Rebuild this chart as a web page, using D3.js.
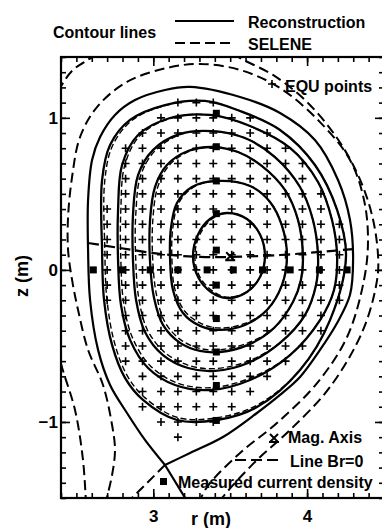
<!DOCTYPE html>
<html>
<head>
<meta charset="utf-8">
<script src="https://cdn.jsdelivr.net/npm/d3@7"></script>
<style>
  body { margin: 0; background: #fff; }
  svg { display: block; }
  text { font-family: "Liberation Sans", Arial, Helvetica, sans-serif; font-weight: bold; fill: #000; }
</style>
</head>
<body>
<svg id="chart" width="382" height="528"></svg>
<script>
// axes (metres)
const rDomain = [2.4, 4.5];
const zDomain = [-1.5, 1.4];
const rTickLabels = [3, 4];
const zTickLabels = [-1, 0, 1];

// reconstruction: closed flux surfaces, inner to outer, [r, z]
const recon1 = [[3.726,0.091],[3.694,0.233],[3.609,0.335],[3.479,0.374],[3.369,0.335],[3.291,0.233],[3.258,0.091],
  [3.291,-0.047],[3.375,-0.145],[3.479,-0.185],[3.609,-0.145],[3.694,-0.047]];
const recon2 = [[3.869,0.091],[3.837,0.289],[3.759,0.447],[3.629,0.552],[3.421,0.585],[3.252,0.545],[3.154,0.440],
  [3.115,0.276],[3.109,0.078],[3.128,-0.132],[3.193,-0.283],[3.304,-0.368],[3.434,-0.395],[3.596,-0.362],
  [3.739,-0.264],[3.837,-0.099]];
const recon3 = [[3.973,0.091],[3.941,0.328],[3.856,0.526],[3.707,0.683],[3.551,0.775],[3.395,0.808],[3.226,0.782],
  [3.089,0.690],[3.011,0.545],[2.979,0.328],[2.979,0.052],[3.005,-0.185],[3.063,-0.362],[3.174,-0.480],
  [3.304,-0.533],[3.434,-0.540],[3.616,-0.493],[3.785,-0.382],[3.908,-0.211],[3.960,-0.066]];
const recon4 = [[4.071,0.091],[4.038,0.328],[3.954,0.545],[3.791,0.742],[3.596,0.867],[3.382,0.913],[3.174,0.894],
  [2.998,0.788],[2.901,0.624],[2.868,0.361],[2.868,0.066],[2.888,-0.198],[2.946,-0.408],[3.063,-0.560],
  [3.226,-0.645],[3.401,-0.664],[3.616,-0.612],[3.824,-0.480],[3.986,-0.297],[4.058,-0.099]];
const recon5 = [[4.195,0.091],[4.162,0.328],[4.071,0.578],[3.889,0.802],[3.629,0.946],[3.369,1.019],[3.109,0.999],
  [2.901,0.887],[2.797,0.690],[2.771,0.394],[2.771,0.066],[2.790,-0.231],[2.849,-0.460],[2.966,-0.645],
  [3.141,-0.757],[3.369,-0.790],[3.629,-0.724],[3.889,-0.560],[4.084,-0.330],[4.175,-0.132]];
const recon6 = [[4.253,0.091],[4.195,0.394],[4.051,0.690],[3.824,0.920],[3.564,1.045],[3.336,1.111],[3.076,1.084],
  [2.849,0.986],[2.719,0.821],[2.667,0.591],[2.667,0.131],[2.680,-0.198],[2.732,-0.493],[2.816,-0.710],
  [2.933,-0.855],[3.154,-0.987],[3.414,-0.987],[3.674,-0.902],[3.954,-0.658],[4.149,-0.330]];
// separatrix, starting and ending at the X-point
const reconSep = [[3.076,-1.283],[2.946,-1.118],[2.829,-0.941],[2.719,-0.757],[2.641,-0.526],[2.589,-0.198],
  [2.576,0.131],[2.576,0.460],[2.602,0.723],[2.654,0.874],[2.751,1.019],[2.881,1.117],[3.076,1.183],[3.239,1.203],
  [3.564,1.137],[3.824,1.032],[4.051,0.854],[4.201,0.591],[4.279,0.328],[4.299,0.066],[4.279,-0.164],
  [4.195,-0.349],[4.084,-0.526],[3.954,-0.704],[3.824,-0.822],[3.674,-0.941],[3.453,-1.099],[3.239,-1.204],
  [3.076,-1.283]];
const reconLeg = [[3.076,-1.283],[3.235,-1.546]];

// SELENE contours
const selene1 = [[3.726,0.091],[3.694,0.233],[3.609,0.335],[3.479,0.374],[3.381,0.335],[3.303,0.233],[3.270,0.091],
  [3.303,-0.047],[3.387,-0.140],[3.479,-0.180],[3.609,-0.145],[3.694,-0.047]];
const selene2 = [[3.869,0.091],[3.837,0.289],[3.759,0.447],[3.629,0.552],[3.421,0.585],[3.264,0.545],[3.166,0.440],
  [3.127,0.276],[3.121,0.078],[3.140,-0.125],[3.205,-0.272],[3.316,-0.355],[3.434,-0.382],[3.596,-0.352],
  [3.739,-0.264],[3.837,-0.099]];
const selene3 = [[3.973,0.091],[3.941,0.328],[3.856,0.526],[3.707,0.683],[3.551,0.775],[3.395,0.808],[3.240,0.782],
  [3.105,0.690],[3.029,0.545],[2.997,0.328],[2.997,0.052],[3.023,-0.175],[3.079,-0.350],[3.186,-0.465],
  [3.310,-0.518],[3.434,-0.525],[3.616,-0.480],[3.785,-0.382],[3.908,-0.211],[3.960,-0.066]];
const selene4 = [[4.071,0.091],[4.038,0.328],[3.954,0.545],[3.791,0.742],[3.596,0.867],[3.382,0.913],[3.188,0.894],
  [3.016,0.788],[2.919,0.624],[2.886,0.361],[2.886,0.066],[2.906,-0.188],[2.962,-0.395],[3.077,-0.545],
  [3.236,-0.630],[3.401,-0.649],[3.616,-0.600],[3.824,-0.480],[3.986,-0.297],[4.058,-0.099]];
const selene5 = [[4.195,0.091],[4.162,0.328],[4.071,0.578],[3.889,0.802],[3.629,0.946],[3.369,1.019],[3.121,0.999],
  [2.917,0.887],[2.815,0.690],[2.789,0.394],[2.789,0.066],[2.808,-0.221],[2.865,-0.447],[2.980,-0.630],
  [3.151,-0.742],[3.369,-0.775],[3.629,-0.712],[3.889,-0.560],[4.084,-0.330],[4.175,-0.132]];
const selene6 = [[4.253,0.091],[4.195,0.394],[4.051,0.690],[3.824,0.920],[3.564,1.045],[3.336,1.111],[3.088,1.084],
  [2.865,0.986],[2.737,0.821],[2.685,0.591],[2.685,0.131],[2.698,-0.188],[2.748,-0.480],[2.830,-0.695],
  [2.945,-0.840],[3.162,-0.972],[3.414,-0.972],[3.674,-0.890],[3.954,-0.658],[4.149,-0.330]];
const seleneLeg = [[3.076,-1.283],[2.816,-1.546]];
// open SELENE contours outside the plasma
const seleneOuterA = [[2.686,-1.546],[2.732,-1.349],[2.751,-1.184],[2.732,-1.020],[2.673,-0.757],[2.576,-0.526],
  [2.511,-0.264],[2.472,-0.066],[2.446,0.131],[2.446,0.348],[2.472,0.611],[2.524,0.874],[2.634,1.071],
  [2.829,1.236],[3.089,1.328],[3.304,1.354],[3.564,1.315],[3.824,1.196],[4.084,0.972],[4.279,0.723],
  [4.370,0.460],[4.396,0.197],[4.370,-0.066],[4.260,-0.441],[4.065,-0.744],[3.804,-1.007],[3.564,-1.204],
  [3.349,-1.428],[3.291,-1.546]];
const seleneOuterB = [[2.563,-1.546],[2.543,-1.250],[2.491,-0.921],[2.406,-0.638],[2.328,-0.330],[2.276,0.131],
  [2.296,0.788],[2.361,1.117],[2.413,1.229],[2.478,1.315],[2.543,1.361],[2.608,1.400],[2.849,1.486],
  [3.174,1.512],[3.466,1.459],[3.564,1.393],[3.778,1.282],[3.986,1.117],[4.181,0.887],[4.331,0.624],
  [4.422,0.361],[4.461,0.098],[4.455,-0.066],[4.364,-0.395],[4.149,-0.770],[3.889,-1.053],[3.674,-1.250],
  [3.453,-1.493],[3.421,-1.546]];

// line Br = 0
const brZero = [[2.576,0.177],[2.784,0.144],[3.044,0.105],[3.304,0.085],[3.499,0.085],[3.824,0.098],[4.084,0.118],[4.299,0.137]];

// magnetic axis
const magAxis = [3.50, 0.09];

// EQU points: grid columns, grid rows, and the column range used on each row
const gridR = [2.70, 2.82, 2.93, 3.05, 3.16, 3.28, 3.39, 3.51, 3.63, 3.74, 3.86, 3.97, 4.09, 4.21, 4.32];
const gridZ = [1.1, 1.0, 0.9, 0.8, 0.7, 0.6, 0.5, 0.4, 0.3, 0.2, 0.1, 0.0, -0.1, -0.2, -0.3, -0.4, -0.5, -0.6, -0.7, -0.8, -0.9, -1.0, -1.1];
const rowFrom = [4, 3, 2, 1, 1, 1, 1, 0, 0, 0, 0, 0, 0, 0, 1, 1, 1, 1, 2, 2, 2, 3, 4];
const rowTo   = [6, 8, 9, 10, 11, 11, 12, 12, 13, 13, 13, 13, 13, 13, 12, 12, 11, 10, 9, 8, 7, 6, 4];

// measured current density
const measR = [2.61, 2.80, 2.98, 3.16, 3.35, 3.52, 3.71, 3.89, 4.08, 4.26];
const measRz = 0.0;
const measZ = [1.03, 0.81, 0.585, 0.37, 0.13, -0.10, -0.32, -0.54, -0.76, -0.99];
const measZr = 3.41;

const svg = d3.select("#chart");
const plotLeft = 61, plotRight = 384, plotTop = 57, plotBottom = 498;

const x = d3.scaleLinear().domain(rDomain).range([plotLeft, plotRight]);
const y = d3.scaleLinear().domain(zDomain).range([plotBottom, plotTop]);

svg.append("rect").attr("width", 382).attr("height", 528).attr("fill", "#fff");

svg.append("clipPath").attr("id", "plot-clip")
  .append("rect").attr("x", plotLeft).attr("y", plotTop)
  .attr("width", plotRight - plotLeft).attr("height", plotBottom - plotTop);

const g = svg.append("g").attr("clip-path", "url(#plot-clip)");

const closedLine = d3.line().x(d => x(d[0])).y(d => y(d[1])).curve(d3.curveCatmullRomClosed.alpha(0.5));
const openLine = d3.line().x(d => x(d[0])).y(d => y(d[1])).curve(d3.curveCatmullRom.alpha(0.5));
const straight = d3.line().x(d => x(d[0])).y(d => y(d[1]));

const dash = "10,5";

// EQU points
const equ = [];
gridZ.forEach((z, k) => {
  for (let i = rowFrom[k]; i <= rowTo[k]; i++) equ.push([gridR[i], z]);
});
g.append("g").selectAll("path").data(equ).join("path")
  .attr("transform", d => `translate(${x(d[0])},${y(d[1])})`)
  .attr("d", "M-4,0H4M0,-4V4")
  .attr("stroke", "#000").attr("stroke-width", 1.6);

// reconstruction
[recon1, recon2, recon3, recon4, recon5, recon6].forEach(c => {
  g.append("path").attr("d", closedLine(c)).attr("fill", "none").attr("stroke", "#000").attr("stroke-width", 2.3);
});
g.append("path").attr("d", openLine(reconSep)).attr("fill", "none").attr("stroke", "#000").attr("stroke-width", 2.2);
g.append("path").attr("d", straight(reconLeg)).attr("fill", "none").attr("stroke", "#000").attr("stroke-width", 2.2);

// SELENE
[selene1, selene2, selene3, selene4, selene5, selene6].forEach(c => {
  g.append("path").attr("d", closedLine(c)).attr("fill", "none").attr("stroke", "#000")
    .attr("stroke-width", 1.4).attr("stroke-dasharray", "6,3");
});
[seleneOuterA, seleneOuterB].forEach(c => {
  g.append("path").attr("d", openLine(c)).attr("fill", "none").attr("stroke", "#000")
    .attr("stroke-width", 2).attr("stroke-dasharray", dash);
});
g.append("path").attr("d", straight(seleneLeg)).attr("fill", "none").attr("stroke", "#000")
  .attr("stroke-width", 2).attr("stroke-dasharray", dash);

// Br = 0
g.append("path").attr("d", openLine(brZero)).attr("fill", "none").attr("stroke", "#000")
  .attr("stroke-width", 2.2).attr("stroke-dasharray", "11,5");

// measured current density
const meas = measR.map(r => [r, measRz]).concat(measZ.map(z => [measZr, z]));
g.append("g").selectAll("rect").data(meas).join("rect")
  .attr("x", d => x(d[0]) - 3.5).attr("y", d => y(d[1]) - 3.5)
  .attr("width", 7).attr("height", 7).attr("fill", "#000");

// magnetic axis
g.append("path")
  .attr("transform", `translate(${x(magAxis[0])},${y(magAxis[1])})`)
  .attr("d", "M-4,-4L4,4M4,-4L-4,4M-5,4H5")
  .attr("stroke", "#000").attr("stroke-width", 2);

// frame and ticks
const minorR = d3.range(24, 46).map(v => v / 10);
const minorZ = d3.range(-15, 15).map(v => v / 10);

function ticks(axisFn, scale, vals, size, pos) {
  return svg.append("g").attr("transform", pos)
    .call(axisFn(scale).tickValues(vals).tickSize(size).tickFormat(""))
    .call(a => a.select(".domain").remove())
    .call(a => a.selectAll("line").attr("stroke", "#000").attr("stroke-width", 1.6));
}
ticks(d3.axisBottom, x, minorR, -5, `translate(0,${plotBottom})`);
ticks(d3.axisTop, x, minorR, -5, `translate(0,${plotTop})`);
ticks(d3.axisLeft, y, minorZ, -5, `translate(${plotLeft},0)`);
ticks(d3.axisRight, y, minorZ, -5, `translate(${plotRight},0)`);
ticks(d3.axisTop, x, rTickLabels, -9, `translate(0,${plotTop})`);
ticks(d3.axisRight, y, zTickLabels, -9, `translate(${plotRight},0)`);

svg.append("g").attr("transform", `translate(0,${plotBottom})`)
  .call(d3.axisBottom(x).tickValues(rTickLabels).tickSize(-9).tickPadding(12).tickFormat(d3.format("d")))
  .call(a => a.select(".domain").remove())
  .call(a => a.selectAll("line").attr("stroke", "#000").attr("stroke-width", 1.6))
  .call(a => a.selectAll("text").attr("font-size", 17).attr("font-family", null));

svg.append("g").attr("transform", `translate(${plotLeft},0)`)
  .call(d3.axisLeft(y).tickValues(zTickLabels).tickSize(-9).tickPadding(3).tickFormat(d3.format("d")))
  .call(a => a.select(".domain").remove())
  .call(a => a.selectAll("line").attr("stroke", "#000").attr("stroke-width", 1.6))
  .call(a => a.selectAll("text").attr("font-size", 17).attr("font-family", null));

svg.append("rect").attr("x", plotLeft).attr("y", plotTop)
  .attr("width", plotRight - plotLeft).attr("height", plotBottom - plotTop)
  .attr("fill", "none").attr("stroke", "#000").attr("stroke-width", 2.2);

// axis titles
svg.append("text").attr("x", 211).attr("y", 525).attr("text-anchor", "middle").attr("font-size", 18).text("r (m)");
svg.append("text").attr("transform", "translate(28,276) rotate(-90)").attr("text-anchor", "middle")
  .attr("font-size", 18).text("z (m)");

// legend: contour lines
svg.append("text").attr("x", 53).attr("y", 38).attr("font-size", 16).text("Contour lines");
svg.append("line").attr("x1", 175).attr("x2", 234).attr("y1", 21).attr("y2", 21)
  .attr("stroke", "#000").attr("stroke-width", 2.2);
svg.append("text").attr("x", 248).attr("y", 28).attr("font-size", 16).text("Reconstruction");
svg.append("line").attr("x1", 175).attr("x2", 234).attr("y1", 43).attr("y2", 43)
  .attr("stroke", "#000").attr("stroke-width", 2.2).attr("stroke-dasharray", dash);
svg.append("text").attr("x", 248).attr("y", 50).attr("font-size", 16).text("SELENE");

// legend inside the plot
svg.append("path").attr("transform", "translate(272,84)").attr("d", "M-4,0H4M0,-4V4")
  .attr("stroke", "#000").attr("stroke-width", 1.6);
svg.append("text").attr("x", 285).attr("y", 92).attr("font-size", 16).text("EQU points");

svg.append("path").attr("transform", "translate(274,438)").attr("d", "M-4,-4L4,4M4,-4L-4,4M-5,4H5")
  .attr("stroke", "#000").attr("stroke-width", 2);
svg.append("text").attr("x", 288).attr("y", 443).attr("font-size", 16).text("Mag. Axis");

svg.append("line").attr("x1", 235).attr("x2", 278).attr("y1", 460).attr("y2", 460)
  .attr("stroke", "#000").attr("stroke-width", 2.2).attr("stroke-dasharray", "11,5");
svg.append("text").attr("x", 290).attr("y", 467).attr("font-size", 16).text("Line Br=0");

svg.append("rect").attr("x", 160).attr("y", 478).attr("width", 7).attr("height", 7).attr("fill", "#000");
svg.append("text").attr("x", 178).attr("y", 488).attr("font-size", 16).text("Measured current density");
</script>
</body>
</html>
